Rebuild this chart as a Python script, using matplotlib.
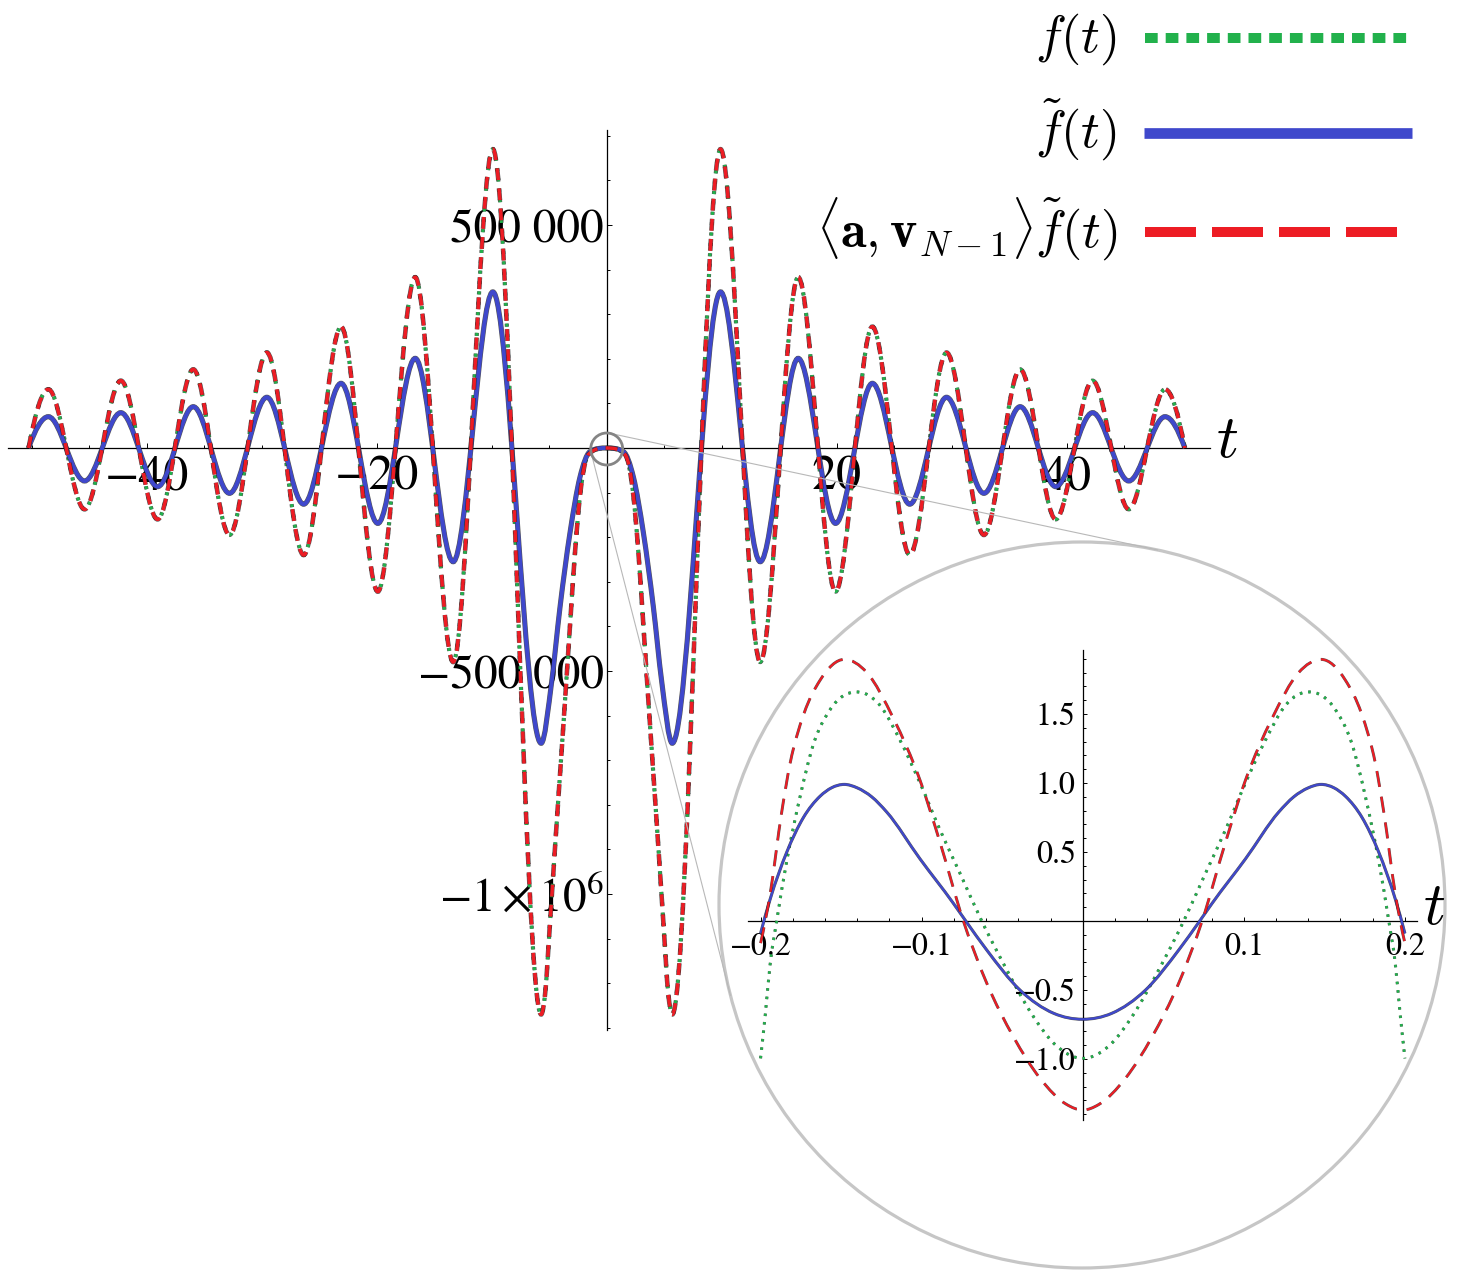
import numpy as np
import matplotlib
matplotlib.use("Agg")
import matplotlib.pyplot as plt
import matplotlib.patheffects as pe
from matplotlib.path import Path
from matplotlib.patches import PathPatch, Circle
from matplotlib.lines import Line2D
from matplotlib.ticker import FixedLocator, FixedFormatter, MultipleLocator

plt.rcParams["font.family"] = ["STIXGeneral", "DejaVu Serif"]
plt.rcParams["mathtext.fontset"] = "stix"

# ----------------------------------------------------------------------
# data (knots: extrema + a few points on the flanks)
# ----------------------------------------------------------------------
# main plot, f~(t) (blue)
blue_t = [-50.27, -48.55, -45.4, -42.25, -39.05, -35.95, -32.8, -29.55, -26.35,
          -23.1, -19.9, -16.65, -13.35, -9.9, -5.7, -4.78, -4.06, -3.19, -2.32,
          -1.45, 0, 1.45, 2.32, 3.19, 4.06, 4.78, 5.7, 9.9, 13.35, 16.65, 19.9,
          23.1, 26.35, 29.55, 32.8, 35.95, 39.05, 42.25, 45.4, 48.55, 50.27]
blue_v = [0, 70200, -74000, 79200, -86700, 92600, -101600, 113700, -126000,
          145000, -169000, 201000, -255000, 350000, -662000, -523000, -357000,
          -190000, -65000, -8000, 0, -8000, -65000, -190000, -357000, -523000,
          -662000, 350000, -255000, 201000, -169000, 145000, -126000, 113700,
          -101600, 92600, -86700, 79200, -74000, 70200, 0]

# main plot, <a, v_N-1> f~(t) (red) and f(t) (green) - they coincide at this scale
red_t = [-50.27, -48.55, -45.4, -42.25, -39.05, -35.95, -32.8, -29.55, -26.35,
         -23.1, -19.9, -16.65, -13.35, -9.9, -5.7, -5.36, -4.93, -4.5, -4.06,
         -3.62, -3.19, -2.75, -2.32, -1.6, 0, 1.6, 2.32, 2.75, 3.19, 3.62, 4.06,
         4.5, 4.93, 5.36, 5.7, 9.9, 13.35, 16.65, 19.9, 23.1, 26.35, 29.55, 32.8,
         35.95, 39.05, 42.25, 45.4, 48.55, 50.27]
red_v = [0, 131600, -137500, 151000, -160000, 176400, -195000, 214000, -240000,
         272000, -322000, 383000, -480000, 670000, -1270000, -1225000, -1065000,
         -898000, -732000, -565000, -398000, -232000, -107000, -15000, 0, -15000,
         -107000, -232000, -398000, -565000, -732000, -898000, -1065000, -1225000,
         -1270000, 670000, -480000, 383000, -322000, 272000, -240000, 214000,
         -195000, 176400, -160000, 151000, -137500, 131600, 0]
green_t = list(red_t)
green_v = list(red_v)

# zoomed inset around t = 0
in_blue_t = [-0.2, -0.194, -0.1837, -0.1734, -0.163, -0.156, -0.148, -0.14, -0.131,
             -0.1217, -0.101, -0.0803, -0.0726, -0.0596, -0.039, -0.018, 0, 0.018,
             0.039, 0.0596, 0.0726, 0.0803, 0.101, 0.1217, 0.131, 0.14, 0.148,
             0.156, 0.163, 0.1734, 0.1837, 0.194, 0.2]
in_blue_v = [-0.09, 0.16, 0.5, 0.75, 0.905, 0.965, 0.99, 0.965, 0.9, 0.79,
             0.45, 0.128, 0, -0.21, -0.5, -0.669, -0.712, -0.669, -0.5, -0.21, 0,
             0.128, 0.45, 0.79, 0.9, 0.965, 0.99, 0.965, 0.905, 0.75, 0.5,
             0.16, -0.09]

in_red_t = [-0.2, -0.194, -0.187, -0.1817, -0.173, -0.163, -0.148, -0.134, -0.1176,
            -0.101, -0.0886, -0.0741, -0.0596, -0.043, -0.0265, -0.0099, 0, 0.0099,
            0.0265, 0.043, 0.0596, 0.0741, 0.0886, 0.101, 0.1176, 0.134, 0.148,
            0.163, 0.173, 0.1817, 0.187, 0.194, 0.2]
in_red_v = [-0.16, 0.2, 0.78, 1.14, 1.505, 1.746, 1.896, 1.8, 1.47, 1.02, 0.57, 0,
            -0.45, -0.84, -1.14, -1.33, -1.37, -1.33, -1.14, -0.84, -0.45, 0, 0.57,
            1.02, 1.47, 1.8, 1.896, 1.746, 1.505, 1.14, 0.78, 0.2, -0.16]

in_green_t = [-0.2, -0.197, -0.194, -0.19, -0.184, -0.1755, -0.167, -0.157, -0.1403,
              -0.126, -0.1134, -0.101, -0.0886, -0.0762, -0.0627, -0.0493, -0.0306,
              -0.018, 0, 0.018, 0.0306, 0.0493, 0.0627, 0.0762, 0.0886, 0.101,
              0.1134, 0.126, 0.1403, 0.157, 0.167, 0.1755, 0.184, 0.19, 0.194,
              0.197, 0.2]
in_green_v = [-0.995, -0.669, -0.307, 0, 0.418, 0.9, 1.288, 1.529, 1.66, 1.565,
              1.31, 1.0, 0.66, 0.346, 0, -0.307, -0.693, -0.886, -0.995, -0.886,
              -0.693, -0.307, 0, 0.346, 0.66, 1.0, 1.31, 1.565, 1.66, 1.529, 1.288,
              0.9, 0.418, 0, -0.307, -0.669, -0.995]

main_xticks = [-40, -20, 20, 40]
main_xlabels = ["\u221240", "\u221220", "20", "40"]
main_yticks = [-1e6, -5e5, 5e5]
main_ylabels = [r"$-1\times10^{6}$", "\u2212500 000", "500 000"]

in_xticks = [-0.2, -0.1, 0.1, 0.2]
in_xlabels = ["\u22120.2", "\u22120.1", "0.1", "0.2"]
in_yticks = [-1.0, -0.5, 0.5, 1.0, 1.5]
in_ylabels = ["\u22121.0", "\u22120.5", "0.5", "1.0", "1.5"]

GREEN, BLUE, RED = "#22b14c", "#3f48cc", "#ed1c24"


# ----------------------------------------------------------------------
# helper: smooth curve through the knots, drawn as a cubic bezier path
# (3-point slope estimate, flat at turning points, clamped to avoid overshoot)
# ----------------------------------------------------------------------
def end_slope(h0, h1, d0, d1):
    s = ((2 * h0 + h1) * d0 - h0 * d1) / (h0 + h1)
    if np.sign(s) != np.sign(d0):
        return 0.0
    if np.sign(d0) != np.sign(d1) and abs(s) > abs(3 * d0):
        return 3 * d0
    return s


def knot_path(ts, vs):
    t = np.asarray(ts, float)
    v = np.asarray(vs, float)
    h = np.diff(t)
    d = np.diff(v) / h
    m = np.zeros_like(t)
    for k in range(1, len(t) - 1):
        if d[k - 1] * d[k] > 0:
            s = (h[k] * d[k - 1] + h[k - 1] * d[k]) / (h[k - 1] + h[k])
            lim = 3 * min(abs(d[k - 1]), abs(d[k]))
            m[k] = np.sign(s) * min(abs(s), lim)
    m[0] = end_slope(h[0], h[1], d[0], d[1])
    m[-1] = end_slope(h[-1], h[-2], d[-1], d[-2])
    verts, codes = [(t[0], v[0])], [Path.MOVETO]
    for k in range(len(t) - 1):
        verts += [(t[k] + h[k] / 3, v[k] + m[k] * h[k] / 3),
                  (t[k + 1] - h[k] / 3, v[k + 1] - m[k + 1] * h[k] / 3),
                  (t[k + 1], v[k + 1])]
        codes += [Path.CURVE4] * 3
    return Path(verts, codes)


def draw_curve(ax, ts, vs, color, lw, ls, edge=0.8):
    p = PathPatch(knot_path(ts, vs), fill=False, edgecolor=color, lw=lw,
                  linestyle=ls, capstyle="butt", zorder=3)
    p.set_path_effects([pe.Stroke(linewidth=lw + edge, foreground="#1e1e1e", alpha=0.75),
                        pe.Normal()])
    ax.add_patch(p)


def style_axes(ax, xt, xl, yt, yl, xminor, yminor, size, pad_x, pad_y, maj, mnr):
    ax.patch.set_visible(False)
    for s in ("top", "right"):
        ax.spines[s].set_visible(False)
    for s in ("left", "bottom"):
        ax.spines[s].set_position(("data", 0))
        ax.spines[s].set_linewidth(0.9)
    ax.xaxis.set_major_locator(FixedLocator(xt))
    ax.xaxis.set_major_formatter(FixedFormatter(xl))
    ax.yaxis.set_major_locator(FixedLocator(yt))
    ax.yaxis.set_major_formatter(FixedFormatter(yl))
    ax.xaxis.set_minor_locator(MultipleLocator(xminor))
    ax.yaxis.set_minor_locator(MultipleLocator(yminor))
    ax.tick_params(which="both", direction="in", width=0.7, labelsize=size)
    ax.tick_params(which="major", length=maj)
    ax.tick_params(which="minor", length=mnr)
    ax.tick_params(axis="x", pad=pad_x)
    ax.tick_params(axis="y", pad=pad_y)


W, H = 1460, 1278
fig = plt.figure(figsize=(W / 100, H / 100), dpi=100)


def px_rect(l, t, r, b):
    return [l / W, 1 - b / H, (r - l) / W, (b - t) / H]


# ----------------------------------------------------------------------
# main plot
# ----------------------------------------------------------------------
ax = fig.add_axes(px_rect(8, 130, 1210, 1030), zorder=1)
ax.set_xlim(-52.06, 52.46)
ax.set_ylim(-1.305e6, 0.713e6)
style_axes(ax, main_xticks, main_xlabels, main_yticks, main_ylabels,
           5, 1e5, 34, 5, 2, 3.8, 2.3)
ax.tick_params(axis="x", labelsize=36)

draw_curve(ax, green_t, green_v, GREEN, 2.2, (0, (1.0, 2.4)))
draw_curve(ax, blue_t, blue_v, BLUE, 2.9, "-")
draw_curve(ax, red_t, red_v, RED, 2.5, (0, (3.4, 2.4)))

# ----------------------------------------------------------------------
# overlay: zoom circle, connector lines, legend, axis names
# ----------------------------------------------------------------------
ov = fig.add_axes([0, 0, 1, 1], zorder=2)
ov.set_xlim(0, W)
ov.set_ylim(H, 0)
ov.axis("off")

c_small, r_small = np.array([606.7, 449.0]), 16.0
c_big, r_big = np.array([1082.0, 905.0]), 363.0
ov.add_patch(Circle(c_big, r_big, facecolor="white", edgecolor="#c6c6c6", lw=2.3, zorder=1))
ov.add_patch(Circle(c_small, r_small, fill=False, edgecolor="#858585", lw=2.0, zorder=4))

dvec = c_big - c_small
base = np.arctan2(dvec[1], dvec[0])
alpha = np.arccos((r_big - r_small) / np.hypot(*dvec))
for sgn in (1, -1):
    n = np.array([np.cos(base + sgn * alpha), np.sin(base + sgn * alpha)])
    p1, p2 = c_small - r_small * n, c_big - r_big * n
    ov.add_line(Line2D([p1[0], p2[0]], [p1[1], p2[1]], color="#b8b8b8", lw=0.8, zorder=3))

# legend
ov.add_line(Line2D([1145, 1410], [37.5, 37.5], color=GREEN, lw=7.2,
                   ls=(0, (1.27, 0.8)), dash_capstyle="butt"))
ov.add_line(Line2D([1144, 1412], [133, 133], color=BLUE, lw=7.7,
                   solid_capstyle="butt"))
ov.add_line(Line2D([1145, 1410], [231.5, 231.5], color=RED, lw=7.2,
                   ls=(0, (5.1, 1.6)), dash_capstyle="butt"))
ov.text(1117, 52, r"$f(t)$", ha="right", va="baseline", fontsize=37.5, math_fontfamily="cm")
ov.text(1117, 148, r"$\tilde{f}(t)$", ha="right", va="baseline", fontsize=37.5,
        math_fontfamily="cm")
ov.text(1117, 247, r"$\langle \mathbf{a}, \mathbf{v}_{N-1}\rangle \tilde{f}(t)$",
        ha="right", va="baseline", fontsize=37.5, math_fontfamily="cm")

ov.text(1216, 457, r"$t$", ha="left", va="baseline", fontsize=44, math_fontfamily="cm")
ov.text(1423, 924, r"$t$", ha="left", va="baseline", fontsize=44, math_fontfamily="cm",
        zorder=5)

# ----------------------------------------------------------------------
# inset
# ----------------------------------------------------------------------
ins = fig.add_axes(px_rect(748, 650, 1417, 1120), zorder=3)
ins.set_xlim(-0.2078, 0.2075)
ins.set_ylim(-1.442, 1.964)
style_axes(ins, in_xticks, in_xlabels, in_yticks, in_ylabels,
           0.02, 0.1, 23, 8, 5, 3.0, 2.0)

draw_curve(ins, in_green_t, in_green_v, GREEN, 1.8, (0, (1.0, 2.4)), edge=0.4)
draw_curve(ins, in_blue_t, in_blue_v, BLUE, 1.6, "-", edge=0.6)
draw_curve(ins, in_red_t, in_red_v, RED, 1.5, (0, (7.7, 4.8)), edge=0.6)

fig.savefig("out.png", dpi=100)
